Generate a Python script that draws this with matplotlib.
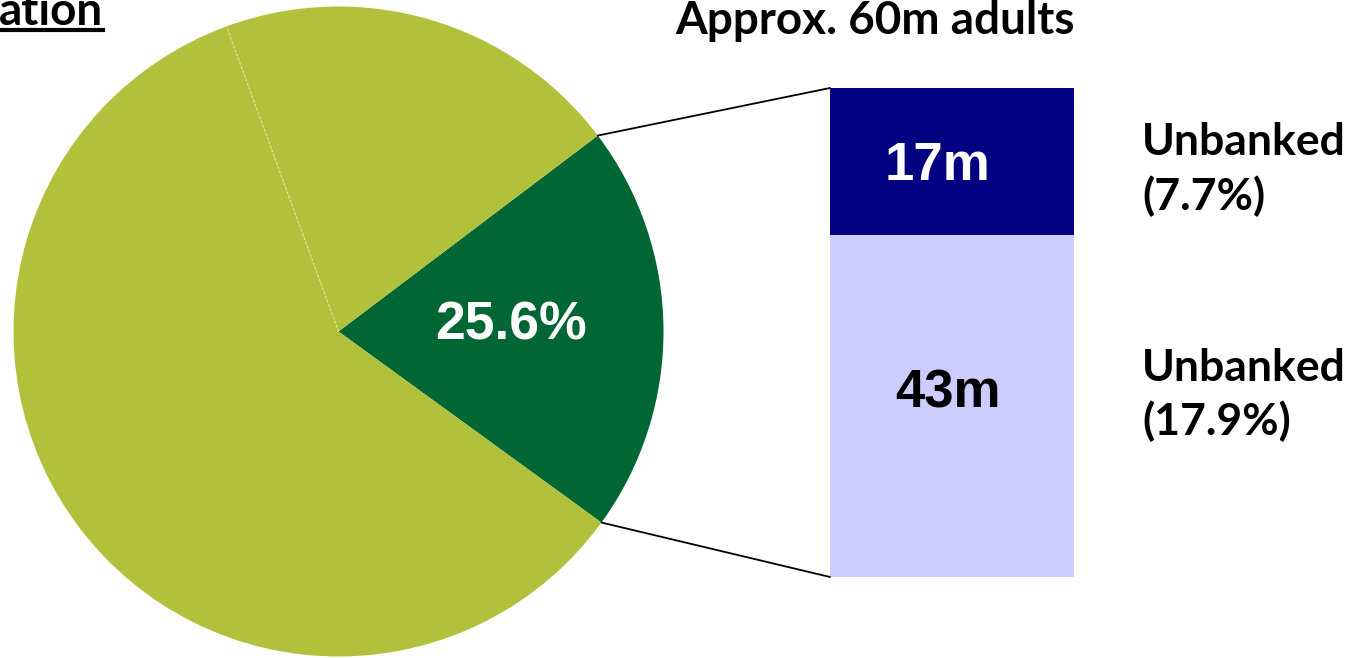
import numpy as np
import matplotlib.pyplot as plt
from matplotlib.patches import ConnectionPatch
from matplotlib.lines import Line2D

# pie slices (share of the circle, %)
pie_shares = [20.3, 20.3, 59.4]
pie_colors = ['#006633', '#B2C13C', '#B2C13C']
pie_label = '25.6%'

# stacked bar on the right (share of adults, %)
bar_pct = [17.9, 7.7]
bar_labels = ['43m', '17m']
bar_side_labels = ['Unbanked\n(17.9%)', 'Unbanked\n(7.7%)']
bar_colors = ['#CCCCFF', '#000080']
bar_text_colors = ['black', 'white']
bar_title = 'Approx. 60m adults'
cut_title = 'ation'

W, H = 1357, 658
# layout tweaks (pixel offsets of labels inside / beside each bar segment)
inner_off = [(-4, 13), (-15, -4)]
side_off = [(0, 11), (0, -8)]

fig = plt.figure(figsize=(W / 100, H / 100), dpi=100)

# --- pie ---
ax1 = fig.add_axes([13.5 / W, 1.5 / H, 650 / W, 650 / H])
wedges, _ = ax1.pie(pie_shares, colors=pie_colors, startangle=-36,
                    counterclock=True, radius=1,
                    wedgeprops=dict(linewidth=0))
ax1.set_xlim(-1, 1)
ax1.set_ylim(-1, 1)
ax1.set_aspect('equal')
ax1.axis('off')

# label inside the dark wedge
mid = np.deg2rad((wedges[0].theta1 + wedges[0].theta2) / 2)
ax1.text(0.53 * np.cos(mid), 0.53 * np.sin(mid) + 0.015, pie_label,
         ha='center', va='center', color='white', fontsize=38.5,
         fontweight='bold', family='Liberation Sans')

# faint divider between the two light slices
a = np.deg2rad(wedges[1].theta2)
ax1.plot([0, np.cos(a)], [0, np.sin(a)], color='#dfe5a6', lw=0.8,
         ls=(0, (2, 2)))

# --- stacked bar ---
ax2 = fig.add_axes([830 / W, 81 / H, 244 / W, 489 / H])
bottom = 0
for i, (h, lab, side, c, tc) in enumerate(zip(bar_pct, bar_labels, bar_side_labels,
                                              bar_colors, bar_text_colors)):
    ax2.bar(0, h, width=1, bottom=bottom, color=c, linewidth=0)
    ax2.annotate(lab, (0, bottom + h / 2), xytext=inner_off[i],
                 textcoords='offset pixels', ha='center', va='center',
                 color=tc, fontsize=38, fontweight='bold',
                 family='Liberation Sans')
    ax2.annotate(side, (0.78, bottom + h / 2), xytext=side_off[i],
                 textcoords='offset pixels', ha='left', va='center',
                 color='black', fontsize=32, fontweight='bold', family='Lato',
                 linespacing=1.38, annotation_clip=False)
    bottom += h
ax2.set_xlim(-0.5, 0.5)
ax2.set_ylim(0, sum(bar_pct))
ax2.axis('off')

# connector lines from the dark wedge to the bar
for ang, yb in [(wedges[0].theta2, sum(bar_pct)), (wedges[0].theta1, 0)]:
    r = np.deg2rad(ang)
    con = ConnectionPatch(xyA=(np.cos(r), np.sin(r)), coordsA=ax1.transData,
                          xyB=(-0.5, yb), coordsB=ax2.transData,
                          color='black', lw=1.3)
    fig.add_artist(con)

fig.text(875 / W, 1 - 21 / H, bar_title, ha='center', va='center',
         fontsize=33, fontweight='bold', family='Lato')

# title cut off at the left edge, underlined
t = fig.text(103 / W, 1 - 25 / H, cut_title, ha='right', va='baseline',
             fontsize=33, fontweight='bold', family='Lato')
fig.canvas.draw()
bb = t.get_window_extent(renderer=fig.canvas.get_renderer())
uy = (H - 30) / H
fig.add_artist(Line2D([0, bb.x1 / W], [uy, uy], color='black', lw=3))

fig.savefig('out.png', dpi=100)
